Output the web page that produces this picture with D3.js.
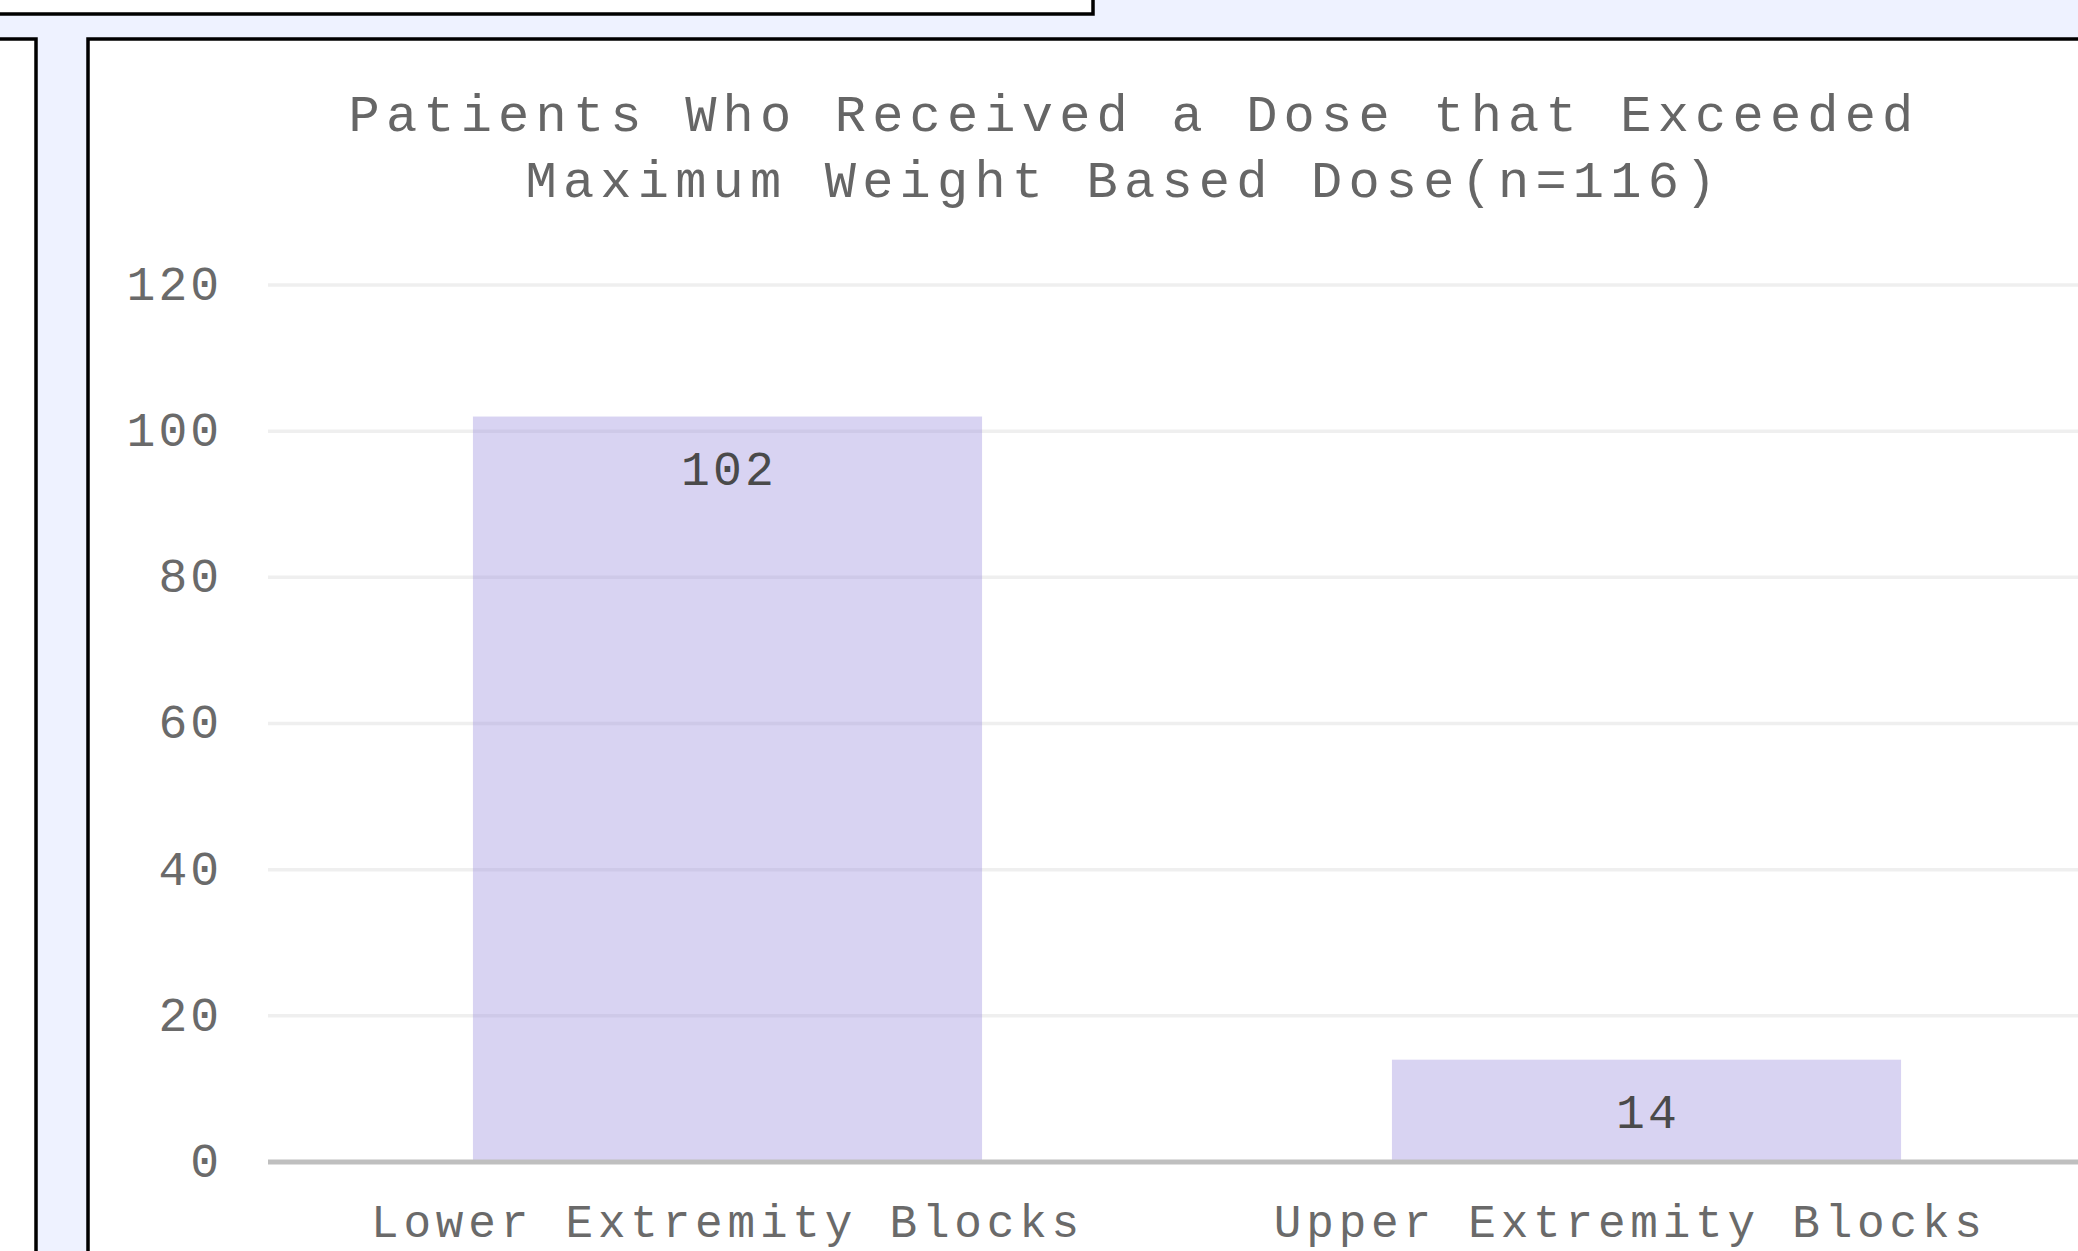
<!DOCTYPE html>
<html>
<head>
<meta charset="utf-8">
<script src="https://cdn.jsdelivr.net/npm/d3@7"></script>
<style>
  html, body { margin: 0; padding: 0; background: #eef2ff; overflow: hidden; }
  svg { display: block; }
  text { font-family: 'Liberation Mono', 'Courier New', monospace; white-space: pre; }
</style>
</head>
<body>
<svg id="chart" width="2078" height="1251"></svg>
<script>
// ---- data ----
const categories = ["Lower Extremity Blocks", "Upper Extremity Blocks "];
const values = [102, 14];
const yTicks = [0, 20, 40, 60, 80, 100, 120];
const titleLines = ["Patients Who Received a Dose that Exceeded", "Maximum Weight Based Dose(n=116)"];

// ---- layout ----
const W = 2078, H = 1251;
const svg = d3.select("#chart");

// background panels (dashboard boxes)
svg.append("rect").attr("x", -10).attr("y", -10).attr("width", 1103).attr("height", 24)
  .attr("fill", "#ffffff").attr("stroke", "#000").attr("stroke-width", 3.5);
svg.append("rect").attr("x", -10).attr("y", 39).attr("width", 46).attr("height", 1300)
  .attr("fill", "#ffffff").attr("stroke", "#000").attr("stroke-width", 3.5);
svg.append("rect").attr("x", 88).attr("y", 39).attr("width", 2100).attr("height", 1300)
  .attr("fill", "#ffffff").attr("stroke", "#000").attr("stroke-width", 3.5);

const plotLeft = 268, plotRight = 2106, plotTop = 285, plotBottom = 1162;

const x = d3.scaleBand().domain(categories).range([plotLeft, plotRight])
  .paddingInner(0.446).paddingOuter(0.223);
const y = d3.scaleLinear().domain([0, 120]).range([plotBottom, plotTop]);

// gridlines
svg.append("g").selectAll("line").data(yTicks.filter(d => d !== 0)).join("line")
  .attr("x1", plotLeft).attr("x2", plotRight)
  .attr("y1", d => y(d)).attr("y2", d => y(d))
  .attr("stroke", "#efefef").attr("stroke-width", 3.5);

// y axis labels via d3 axis
const yAxis = d3.axisLeft(y).tickValues(yTicks).tickSize(0).tickPadding(0);
const yg = svg.append("g").attr("transform", `translate(${222},0)`).call(yAxis);
yg.select(".domain").remove();
yg.selectAll("text")
  .attr("x", 0).attr("dy", "0.3em")
  .attr("fill", "#6a6a6a").style("font-size", "48px").style("letter-spacing", "3px")
  .style("font-family", "'Liberation Mono', monospace");

// bars
svg.append("g").selectAll("rect").data(values).join("rect")
  .attr("x", (d, i) => x(categories[i]))
  .attr("width", x.bandwidth())
  .attr("y", d => y(d))
  .attr("height", d => y(0) - y(d))
  .attr("fill", "rgb(158,145,223)").attr("fill-opacity", 0.4);

// baseline
svg.append("line").attr("x1", plotLeft).attr("x2", plotRight + 20)
  .attr("y1", y(0)).attr("y2", y(0))
  .attr("stroke", "#bfbfbf").attr("stroke-width", 5);

// value labels
svg.append("g").selectAll("text").data(values).join("text")
  .attr("x", (d, i) => x(categories[i]) + x.bandwidth() / 2 + 1.6)
  .attr("y", d => y(d) + 68)
  .attr("text-anchor", "middle")
  .attr("fill", "#4a4a4a").style("font-size", "48px").style("letter-spacing", "3.2px")
  .text(d => d);

// x axis labels via d3 axis
const xAxis = d3.axisBottom(x).tickSize(0).tickPadding(0);
const xg = svg.append("g").attr("transform", `translate(0,${plotBottom})`).call(xAxis);
xg.select(".domain").remove();
xg.selectAll("text")
  .attr("y", 75).attr("dy", 0).attr("dx", 0)
  .attr("fill", "#6a6a6a").style("font-size", "46px").style("letter-spacing", "4.8px")
  .style("font-family", "'Liberation Mono', monospace")
  .style("white-space", "pre");

// title
const titleCenters = [1134, 1124];
const titleBaselines = [131, 197];
svg.append("g").selectAll("text").data(titleLines).join("text")
  .attr("x", (d, i) => titleCenters[i])
  .attr("y", (d, i) => titleBaselines[i])
  .attr("text-anchor", "middle")
  .attr("fill", "#666").style("font-size", "52px").style("letter-spacing", "6.2px")
  .text(d => d);
</script>
</body>
</html>
